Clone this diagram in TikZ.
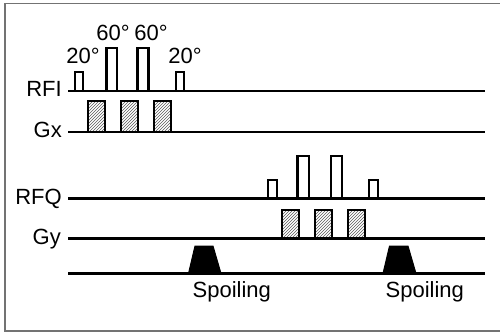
\documentclass[tikz,border=0pt]{standalone}
\usepackage{fontspec}
\setmainfont{Liberation Sans}
\usetikzlibrary{patterns}
\begin{document}
\begin{tikzpicture}[x=1pt,y=-1pt,
  sig/.style={line width=2.3pt},
  pulse/.style={line width=2.2pt, line join=miter},
  grad/.style={line width=2.2pt, pattern=north east lines, pattern color=black!65},
  spoil/.style={fill=black, draw=black, line width=1pt},
  lbl/.style={font=\fontsize{22}{22}\selectfont, inner sep=0pt},
  frame/.style={draw=black!55, line width=1.2pt}]
\useasboundingbox (0,0) rectangle (500,332);
\draw[frame] (501,3.5) -- (5,3.5) -- (5,331) -- (501,331);
% signal lines
\draw[sig] (68,90.7) -- (485,90.7);
\draw[sig] (68,131.7) -- (485,131.7);
\draw[sig] (68,198.5) -- (485,198.5);
\draw[sig] (68,238.5) -- (485,238.5);
\draw[sig] (68,273.5) -- (485,273.5);
% labels
\node[lbl, anchor=base east] (rfi) at (62,96) {RFI};
\node[lbl, anchor=base east] (gx) at (62,137.5) {Gx};
\node[lbl, anchor=base east] (rfq) at (62,204.5) {RFQ};
\node[lbl, anchor=base east] (gy) at (61,244) {Gy};
% RFI pulses
\draw[pulse] (75,90.7) -- (75,72) -- (83,72) -- (83,90.7);
\draw[pulse] (106.5,90.7) -- (106.5,48) -- (117,48) -- (117,90.7);
\draw[pulse] (137.5,90.7) -- (137.5,48) -- (148.5,48) -- (148.5,90.7);
\draw[pulse] (176,90.7) -- (176,72) -- (184,72) -- (184,90.7);
\node[lbl, anchor=base] (a1) at (83,63) {20°};
\node[lbl, anchor=base] (a2) at (113,40) {60°};
\node[lbl, anchor=base] (a3) at (151,40) {60°};
\node[lbl, anchor=base] (a4) at (185,63) {20°};
% Gx lobes
\draw[grad] (88,131.7) rectangle (105,101);
\draw[grad] (121,131.7) rectangle (138,101);
\draw[grad] (154,131.7) rectangle (171,101);
% RFQ pulses
\draw[pulse] (268,198.5) -- (268,180) -- (277,180) -- (277,198.5);
\draw[pulse] (297.5,198.5) -- (297.5,156) -- (309,156) -- (309,198.5);
\draw[pulse] (331,198.5) -- (331,156) -- (342,156) -- (342,198.5);
\draw[pulse] (369,198.5) -- (369,180) -- (378,180) -- (378,198.5);
% Gy lobes
\draw[grad] (282,238.5) rectangle (299,210);
\draw[grad] (315,238.5) rectangle (332,210);
\draw[grad] (348,238.5) rectangle (365,210);
% spoilers
\draw[spoil] (188.5,273.5) -- (195,246) -- (213,246) -- (221,273.5) -- cycle;
\draw[spoil] (383,273.5) -- (389.5,246) -- (408,246) -- (416,273.5) -- cycle;
\node[lbl, anchor=base west] (s1) at (192.5,297) {Spoiling};
\node[lbl, anchor=base west] (s2) at (385.5,297) {Spoiling};
\end{tikzpicture}
\end{document}
